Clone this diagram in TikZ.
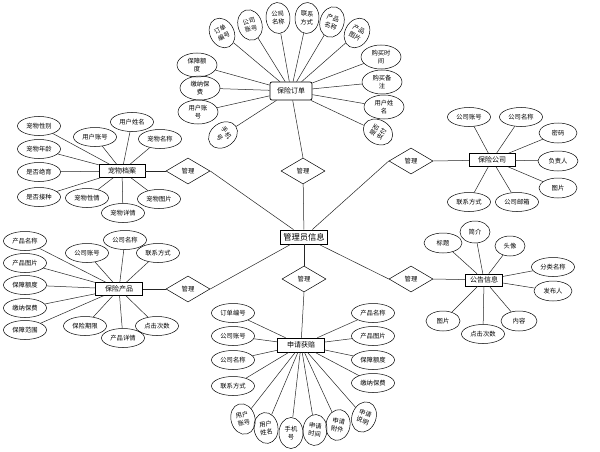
\documentclass[tikz,border=0pt]{standalone}
\usepackage{fontspec}
\setmainfont{Noto Sans CJK SC}
\usetikzlibrary{shapes.geometric}
\tikzset{
  base/.style={font=\fontsize{6.3}{8.2}\selectfont, inner sep=0pt, align=center, line width=0.5pt},
  attr/.style={base, ellipse, draw, minimum width=43pt, minimum height=19pt},
  attrs/.style={base, ellipse, draw, minimum width=30pt, minimum height=20pt},
  attrtwo/.style={base, ellipse, draw, minimum width=40pt, minimum height=24pt},
  vattr/.style={base, ellipse, draw, minimum width=24pt, minimum height=31pt},
  ent/.style={base, rectangle, draw, minimum width=46pt, minimum height=13pt, font=\fontsize{7}{8}\selectfont},
  rel/.style={base, diamond, draw, minimum width=44pt, minimum height=26pt},
  link/.style={line width=0.5pt, draw=black!85}
}
\begin{document}
\begin{tikzpicture}[x=1pt,y=-1pt]
\useasboundingbox (0,0) rectangle (600,452);
\fill[white] (0,0) rectangle (600,452);

% central entity
\node[ent, minimum width=47pt, minimum height=14pt, font=\fontsize{8.3}{9}\selectfont, line width=0.7pt] (admin) at (304,237) {管理员信息};

% relationships
\node[rel] (rtop) at (303,171) {管理};
\node[rel] (rlt) at (188,171) {管理};
\node[rel] (rrt) at (411,161) {管理};
\node[rel] (rlb) at (188,289) {管理};
\node[rel] (rbot) at (304,279) {管理};
\node[rel] (rrb) at (411,279) {管理};

% entities
\node[ent, rounded corners=2pt, minimum width=42pt, minimum height=18pt, line width=0.7pt] (order) at (291,91) {保险订单};
\node[ent] (pet) at (122,171) {宠物档案};
\node[ent, minimum width=47pt] (prod) at (119,289) {保险产品};
\node[ent, minimum width=47pt, minimum height=14pt] (claim) at (301,345) {申请获赔};
\node[ent] (comp) at (492,160) {保险公司};
\node[ent, minimum width=37pt, minimum height=12pt] (news) at (484,280) {公告信息};

% center links
\draw[link] (rtop) -- (admin);
\draw[link] (rbot) -- (admin);
\draw[link] (rlt.east) -- (admin);
\draw[link] (rlb.east) -- (admin);
\draw[link] (rrt.west) -- (admin);
\draw[link] (rrb.west) -- (admin);
\draw[link] (rtop.north) -- (order);
\draw[link] (pet) -- (rlt.west);
\draw[link] (prod) -- (rlb.west);
\draw[link] (rbot.south) -- (claim);
\draw[link] (rrt.east) -- (comp);
\draw[link] (rrb.east) -- (news);

% ===== 保险订单 attributes
\node[vattr, rotate=28] (o1) at (222,33) {订单\\编号};
\node[vattr, rotate=16] (o2) at (250,25) {公司\\账号};
\node[vattr, rotate=5] (o3) at (278,18) {公司\\名称};
\node[vattr, rotate=-3] (o4) at (307,18) {联系\\方式};
\node[vattr, rotate=-16] (o5) at (332,22) {产品\\名称};
\node[vattr, rotate=-28] (o6) at (357,33) {产品\\图片};
\node[attrtwo] (o7) at (381,57) {购买时\\间};
\node[attrtwo] (o8) at (382,82) {购买备\\注};
\node[attrtwo] (o9) at (384,107) {用户姓\\名};
\node[vattr, rotate=60] (o10) at (378,132) {是否\\支付};
\node[attrtwo] (o11) at (197,65) {保障额\\度};
\node[attrtwo] (o12) at (200,88) {缴纳保\\费};
\node[attrtwo] (o13) at (198,112) {用户账\\号};
\node[vattr, rotate=-55] (o14) at (223,135) {手机\\号};
\foreach \n in {o1,o2,o3,o4,o5,o6,o7,o8,o9,o10,o11,o12,o13,o14}
  \draw[link] (\n) -- (order);

% ===== 宠物档案 attributes
\node[attr] (p1) at (39,126) {宠物性别};
\node[attr] (p2) at (39,149) {宠物年龄};
\node[attr] (p3) at (39,172) {是否绝育};
\node[attr] (p4) at (39,197) {是否接种};
\node[attr] (p5) at (95,137) {用户账号};
\node[attr] (p6) at (132,122) {用户姓名};
\node[attr] (p7) at (160,139) {宠物名称};
\node[attr] (p8) at (87,198) {宠物性情};
\node[attr] (p9) at (123,213) {宠物详情};
\node[attr] (p10) at (159,199) {宠物图片};
\foreach \n in {p1,p2,p3,p4,p5,p6,p7,p8,p9,p10}
  \draw[link] (\n) -- (pet);

% ===== 保险产品 attributes
\node[attr] (q1) at (25,241) {产品名称};
\node[attr] (q2) at (25,263) {产品图片};
\node[attr] (q3) at (25,285) {保障额度};
\node[attr] (q4) at (25,308) {缴纳保费};
\node[attr] (q5) at (25,330) {保障范围};
\node[attr] (q6) at (87,253) {公司账号};
\node[attr] (q7) at (125,240) {公司名称};
\node[attr] (q8) at (158,253) {联系方式};
\node[attr] (q9) at (85,326) {保险期限};
\node[attr] (q10) at (123,338) {产品详情};
\node[attr] (q11) at (157,326) {点击次数};
\foreach \n in {q1,q2,q3,q4,q5,q6,q7,q8,q9,q10,q11}
  \draw[link] (\n) -- (prod);

% ===== 申请获赔 attributes
\node[attr] (c1) at (233,313) {订单编号};
\node[attr] (c2) at (233,336) {公司账号};
\node[attr] (c3) at (233,360) {公司名称};
\node[attr] (c4) at (233,386) {联系方式};
\node[attr] (c5) at (373,313) {产品名称};
\node[attr] (c6) at (373,336) {产品图片};
\node[attr] (c7) at (373,360) {保障额度};
\node[attr] (c8) at (373,383) {缴纳保费};
\node[vattr, rotate=15] (c9) at (243,419) {用户\\账号};
\node[vattr, rotate=8] (c10) at (266,428) {用户\\姓名};
\node[vattr] (c11) at (291,433) {手机\\号};
\node[vattr, rotate=-5] (c12) at (315,430) {申请\\时间};
\node[vattr, rotate=-10] (c13) at (338,425) {申请\\附件};
\node[vattr, rotate=-20] (c14) at (364,417) {申请\\说明};
\foreach \n in {c1,c2,c3,c4,c5,c6,c7,c8,c9,c10,c11,c12,c13,c14}
  \draw[link] (\n) -- (claim);

% ===== 保险公司 attributes
\node[attr] (k1) at (469,117) {公司账号};
\node[attr] (k2) at (521,117) {公司名称};
\node[attrs, minimum width=38pt] (k3) at (558,133) {密码};
\node[attrs, minimum width=40pt] (k4) at (558,161) {负责人};
\node[attrs, minimum width=38pt] (k5) at (558,188) {图片};
\node[attr] (k6) at (469,202) {联系方式};
\node[attr] (k7) at (517,202) {公司邮箱};
\foreach \n in {k1,k2,k3,k4,k5,k6,k7}
  \draw[link] (\n) -- (comp);

% ===== 公告信息 attributes
\node[attrs, minimum width=38pt] (n1) at (443,243) {标题};
\node[attrs, minimum height=22pt] (n2) at (475,232) {简介};
\node[attrs] (n3) at (510,246) {头像};
\node[attr] (n4) at (553,267) {分类名称};
\node[attrs, minimum width=38pt] (n5) at (553,291) {发布人};
\node[attrs, minimum width=34pt] (n6) at (443,321) {图片};
\node[attr] (n7) at (483,334) {点击次数};
\node[attrs, minimum width=36pt] (n8) at (519,321) {内容};
\foreach \n in {n1,n2,n3,n4,n5,n6,n7,n8}
  \draw[link] (\n) -- (news);
\end{tikzpicture}
\end{document}
